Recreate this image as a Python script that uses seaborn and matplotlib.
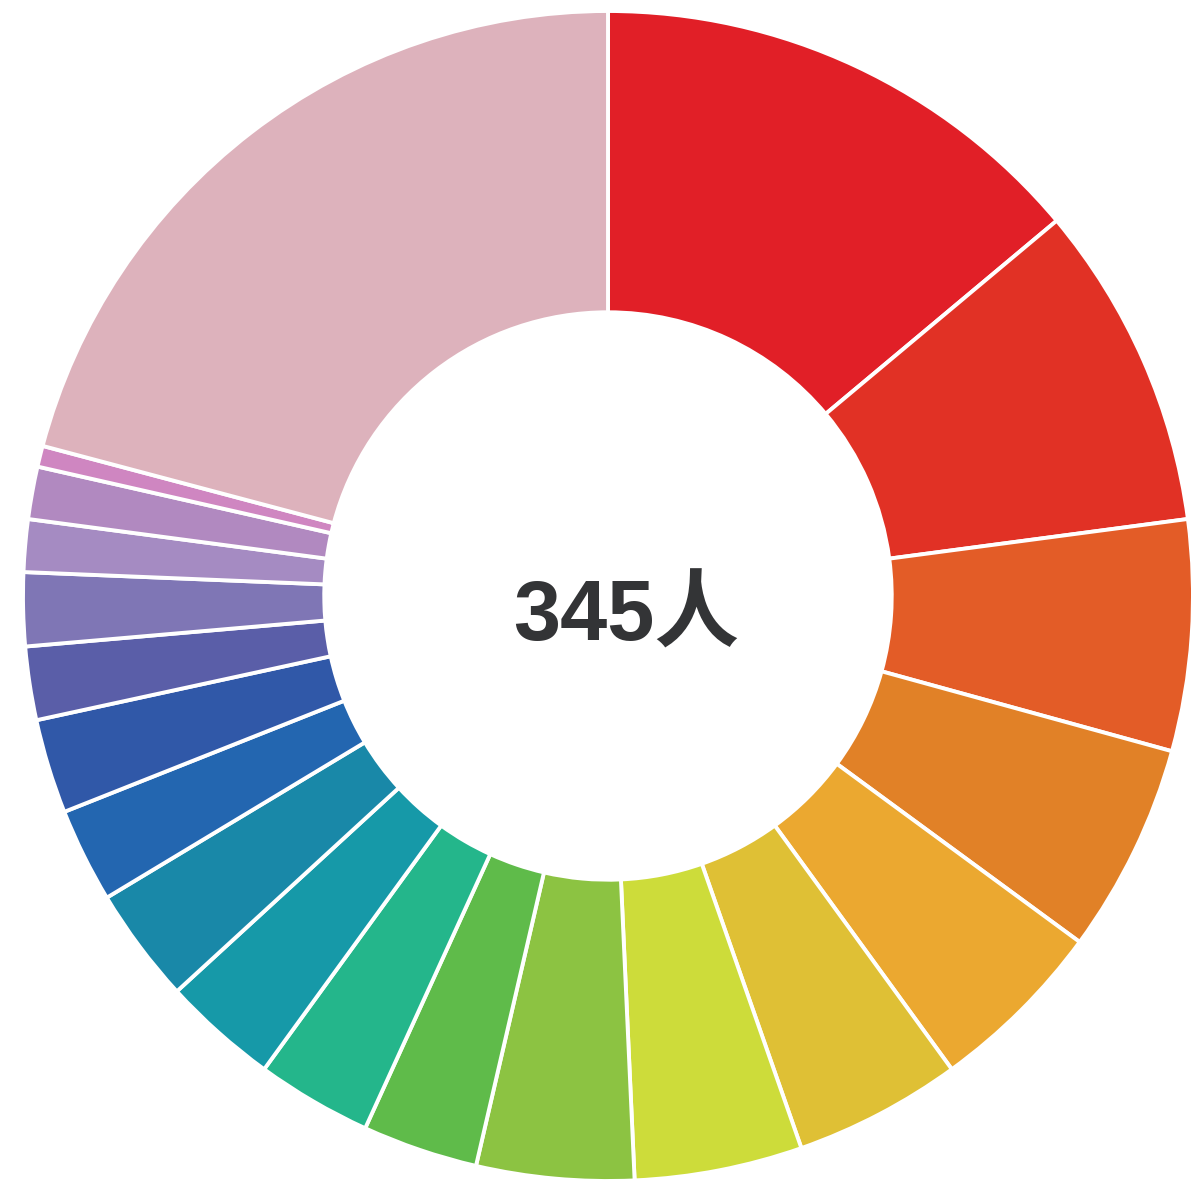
import matplotlib
matplotlib.use("Agg")
import matplotlib.pyplot as plt
import seaborn as sns

# counts per slice, clockwise from 12 o'clock (total 345)
counts = [48, 31, 22, 20, 17, 16, 16, 15, 11, 11, 11, 11, 9, 9, 7, 7, 5, 5, 2, 72]
colors = ["#E11F27", "#E13125", "#E35C27", "#E18127", "#EBA830", "#DFC035",
          "#CDDC3A", "#8CC342", "#5FBB4A", "#24B68B", "#1699A8", "#1988A8",
          "#2366B0", "#3058A8", "#5A5EA8", "#7F76B5", "#A58BC2", "#B189C0",
          "#CF86C1", "#DDB2BC"]
center_label = "345人"

sns.set_theme(style="white")
plt.rcParams["font.family"] = ["Liberation Sans", "Noto Sans CJK SC", "DejaVu Sans"]

W, H = 1191, 1184
cx, cy, R = 608, 596, 585

fig = plt.figure(figsize=(W / 100, H / 100), dpi=100)
ax = fig.add_axes([0, 0, 1, 1])

ax.pie(counts, colors=colors, startangle=90, counterclock=False, radius=1,
       wedgeprops=dict(width=0.515, edgecolor="white", linewidth=2.8))

ax.text((626 - cx) / R, -(619 - cy) / R, center_label, ha="center", va="center",
        fontsize=61, fontweight="heavy", color="#333436")

ax.set_xlim(-cx / R, (W - cx) / R)
ax.set_ylim(-(H - cy) / R, cy / R)
ax.set_aspect("equal")
ax.axis("off")

fig.savefig("out.png", dpi=100)
